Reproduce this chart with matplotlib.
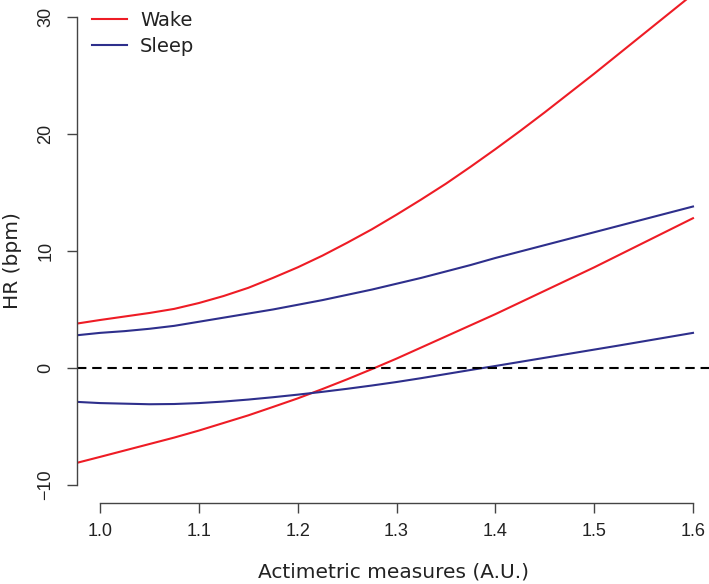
import numpy as np
import matplotlib.pyplot as plt

# values
x = [0.977, 1.0, 1.025, 1.05, 1.075, 1.1, 1.125, 1.15, 1.175, 1.2, 1.225, 1.25, 1.275,
     1.3, 1.325, 1.35, 1.375, 1.4, 1.425, 1.45, 1.475, 1.5, 1.525, 1.55, 1.575, 1.6]
wake_upper = [3.8, 4.1, 4.4, 4.7, 5.05, 5.55, 6.15, 6.85, 7.7, 8.6, 9.6, 10.7, 11.85,
              13.1, 14.4, 15.75, 17.2, 18.7, 20.25, 21.85, 23.5, 25.15, 26.85, 28.55, 30.25, 31.95]
wake_lower = [-8.1, -7.6, -7.05, -6.5, -5.95, -5.35, -4.7, -4.05, -3.33, -2.6, -1.8, -0.97, -0.1,
              0.8, 1.75, 2.7, 3.65, 4.6, 5.6, 6.6, 7.6, 8.6, 9.65, 10.7, 11.75, 12.8]
sleep_upper = [2.8, 3.0, 3.15, 3.35, 3.6, 3.95, 4.3, 4.65, 5.0, 5.4, 5.8, 6.25, 6.7,
               7.2, 7.7, 8.25, 8.8, 9.4, 9.95, 10.5, 11.05, 11.6, 12.15, 12.7, 13.25, 13.8]
sleep_lower = [-2.9, -3.0, -3.05, -3.1, -3.08, -3.0, -2.87, -2.7, -2.5, -2.28, -2.04, -1.78, -1.5,
               -1.2, -0.87, -0.52, -0.17, 0.17, 0.52, 0.87, 1.22, 1.57, 1.92, 2.28, 2.64, 3.0]

xticks = [1.0, 1.1, 1.2, 1.3, 1.4, 1.5, 1.6]
yticks = [-10, 0, 10, 20, 30]

red = '#ee1c25'
blue = '#2e2f8c'

W, H = 709, 584
fig = plt.figure(figsize=(W / 100, H / 100), dpi=100)
ax = fig.add_axes([77 / W, (H - 503) / H, (W - 77) / W, 503 / H])

ax.plot(x, wake_upper, color=red, lw=1.5, label='Wake')
ax.plot(x, wake_lower, color=red, lw=1.5)
ax.plot(x, sleep_upper, color=blue, lw=1.5, label='Sleep')
ax.plot(x, sleep_lower, color=blue, lw=1.5)
ax.axhline(0, color='black', lw=1.5, linestyle=(0, (4.5, 2.8)))

ax.set_xlim(0.9767, 1.6162)
ax.set_ylim(-11.54, 31.45)

for side in ['top', 'right']:
    ax.spines[side].set_visible(False)
ax.spines['left'].set_bounds(-10, 30)
ax.spines['bottom'].set_bounds(1.0, 1.6)
for side in ['left', 'bottom']:
    ax.spines[side].set_color('#444444')
    ax.spines[side].set_linewidth(1.0)

ax.set_xticks(xticks)
ax.set_xticklabels(['%.1f' % t for t in xticks])
ax.set_yticks(yticks)
ax.set_yticklabels(['\u221210' if t < 0 else str(t) for t in yticks],
                   rotation=90, va='center')
ax.tick_params(axis='both', direction='out', length=7.2, width=1.0,
               color='#444444', labelsize=13, labelcolor='#222222')
ax.tick_params(axis='x', pad=7)
ax.tick_params(axis='y', pad=9)
for lab in ax.get_xticklabels() + ax.get_yticklabels():
    lab.set_family('Liberation Sans')

ax.set_xlabel('Actimetric measures (A.U.)', fontsize=14.5, color='#222222')
ax.set_ylabel('HR (bpm)', fontsize=14.5, color='#222222')
ax.xaxis.label.set_va('center')
ax.yaxis.label.set_va('center')
ax.xaxis.set_label_coords((393 - 77) / (W - 77), -(572 - 503) / 503)
ax.yaxis.set_label_coords((13 - 77) / (W - 77), (503 - 261) / 503)

ax.legend(loc='upper left', bbox_to_anchor=(15 / (W - 77), 1 - 11 / 503),
          frameon=False, fontsize=14, handlelength=1.8, handletextpad=0.67,
          labelspacing=0.35, borderpad=0, borderaxespad=0, labelcolor='#222222')

fig.savefig('out.png', dpi=100)
